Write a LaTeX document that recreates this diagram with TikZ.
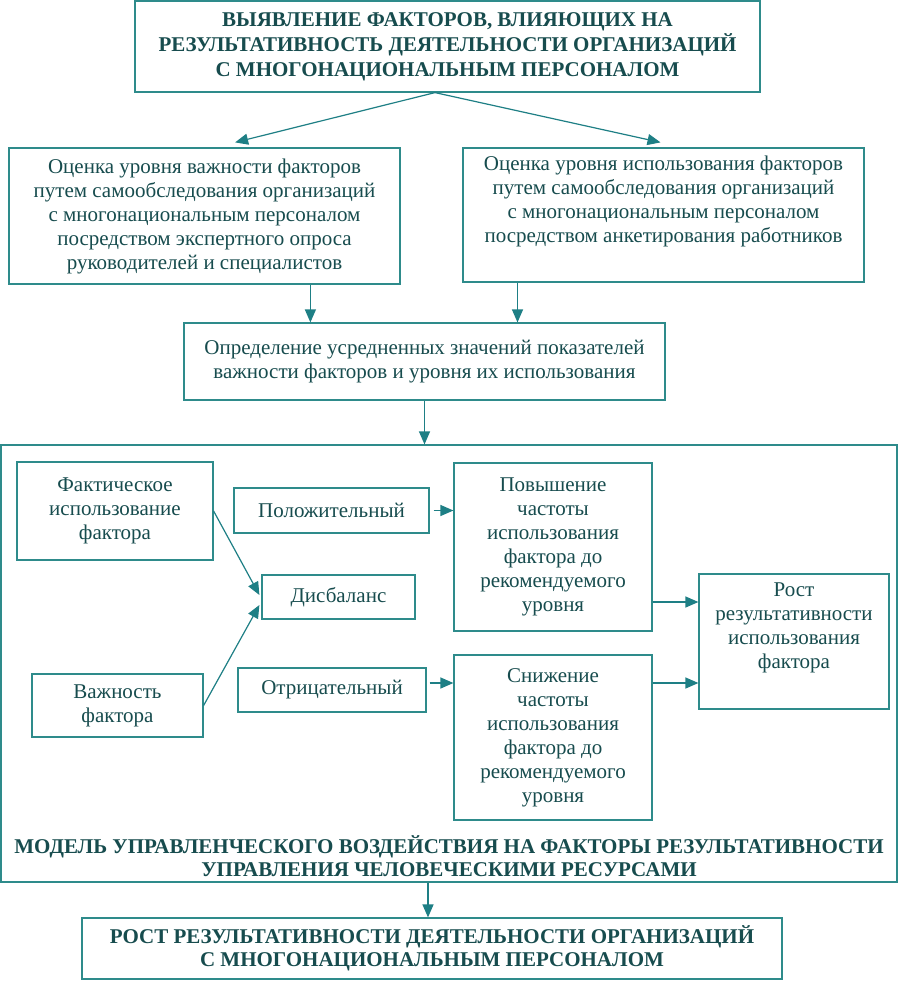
\documentclass[tikz,border=0pt]{standalone}
\usepackage{fontspec}
\setmainfont{Liberation Serif}
\usetikzlibrary{arrows.meta,calc}
\definecolor{tealb}{HTML}{2E8B8B}
\definecolor{tealt}{HTML}{174C4E}
\definecolor{teala}{HTML}{1E7F85}
\begin{document}
\begin{tikzpicture}[x=1pt,y=-1pt,
 box/.style={draw=tealb, line width=1.2pt, align=center, text=tealt, inner sep=0pt, font=\fontsize{21}{24}\selectfont},
 bbox/.style={box, font=\fontsize{21}{25}\selectfont\bfseries},
 arr/.style={draw=teala, line width=1.2pt, -{Triangle[length=13pt,width=11pt]}},
]
\useasboundingbox (0,0) rectangle (899,981);
\fill[white] (0,0) rectangle (899,981);

\node[bbox, minimum width=625pt, minimum height=91pt] (top) at (447.5,46.5) {ВЫЯВЛЕНИЕ ФАКТОРОВ, ВЛИЯЮЩИХ НА\\РЕЗУЛЬТАТИВНОСТЬ ДЕЯТЕЛЬНОСТИ ОРГАНИЗАЦИЙ\\С МНОГОНАЦИОНАЛЬНЫМ ПЕРСОНАЛОМ};

\node[box, minimum width=391pt, minimum height=136pt] (lb) at (204.5,216) {Оценка уровня важности факторов\\путем самообследования организаций\\с многонациональным персоналом\\посредством экспертного опроса\\руководителей и специалистов};

\node[box, minimum width=401pt, minimum height=134pt] (rb) at (663.5,215) {Оценка уровня использования факторов\\путем самообследования организаций\\с многонациональным персоналом\\посредством анкетирования работников\\\strut};

\node[box, minimum width=481pt, minimum height=77pt] (mid) at (424.5,361.5) {Определение усредненных значений показателей\\важности факторов и уровня их использования};

\node[draw=tealb, line width=1.2pt, inner sep=0pt, minimum width=896pt, minimum height=437pt] (outer) at (449,663.5) {};

\node[box, minimum width=196pt, minimum height=98pt] (fact) at (115,511) {Фактическое\\использование\\фактора};
\node[box, minimum width=195pt, minimum height=45pt] (pos) at (331.5,510.5) {Положительный};
\node[box, minimum width=153pt, minimum height=44pt] (dis) at (338.5,597) {Дисбаланс};
\node[box, minimum width=188pt, minimum height=44pt] (neg) at (332,690) {Отрицательный};
\node[box, minimum width=171pt, minimum height=63pt] (vazh) at (117.5,705.5) {Важность\\фактора};
\node[box, minimum width=198pt, minimum height=168pt] (pov) at (553,547) {Повышение\\частоты\\использования\\фактора до\\рекомендуемого\\уровня};
\node[box, minimum width=198pt, minimum height=165pt] (sniz) at (553,737.5) {Снижение\\частоты\\использования\\фактора до\\рекомендуемого\\уровня};
\node[box, minimum width=190pt, minimum height=135pt] (rost) at (794,641.5) {Рост\\результативности\\использования\\фактора\\\strut};

\node[align=center, text=tealt, inner sep=0pt, font=\fontsize{21}{23}\selectfont\bfseries] (mtitle) at (449,856.5) {МОДЕЛЬ УПРАВЛЕНЧЕСКОГО ВОЗДЕЙСТВИЯ НА ФАКТОРЫ РЕЗУЛЬТАТИВНОСТИ\\УПРАВЛЕНИЯ ЧЕЛОВЕЧЕСКИМИ РЕСУРСАМИ};

\node[box, font=\fontsize{21}{23}\selectfont\bfseries, minimum width=700pt, minimum height=61pt] (bot) at (432,948.5) {РОСТ РЕЗУЛЬТАТИВНОСТИ ДЕЯТЕЛЬНОСТИ ОРГАНИЗАЦИЙ\\С МНОГОНАЦИОНАЛЬНЫМ ПЕРСОНАЛОМ};

\draw[arr] ($(top.south west)!0.48!(top.south east)$) -- ($(lb.north west)!0.578!(lb.north east)+(0,-5)$);
\draw[arr] ($(top.south west)!0.48!(top.south east)$) -- ($(rb.north)+(-3,-5)$);
\draw[arr] ($(lb.south west)!0.77!(lb.south east)$) coordinate (a1) -- (a1 |- mid.north);
\draw[arr] ($(rb.south west)!0.137!(rb.south east)$) coordinate (a2) -- (a2 |- mid.north);
\draw[arr] (mid.south) coordinate (a3) -- (a3 |- outer.north);
\draw[arr] (fact.east) -- ($(dis.west)+(-2,-2)$);
\draw[arr] (vazh.east) -- ($(dis.west)+(-2,8)$);
\draw[arr] ($(pos.east)+(4,0)$) coordinate (a4) -- (a4 -| pov.west);
\draw[arr] ($(neg.east)+(3,-7)$) coordinate (a5) -- (a5 -| sniz.west);
\draw[arr] ($(pov.east)+(0,55)$) coordinate (a6) -- (a6 -| rost.west);
\draw[arr] ($(sniz.east)+(0,-54.5)$) coordinate (a7) -- (a7 -| rost.west);
\draw[arr] ($(outer.south)+(-21,0)$) coordinate (a8) -- (a8 |- bot.north);
\end{tikzpicture}
\end{document}
